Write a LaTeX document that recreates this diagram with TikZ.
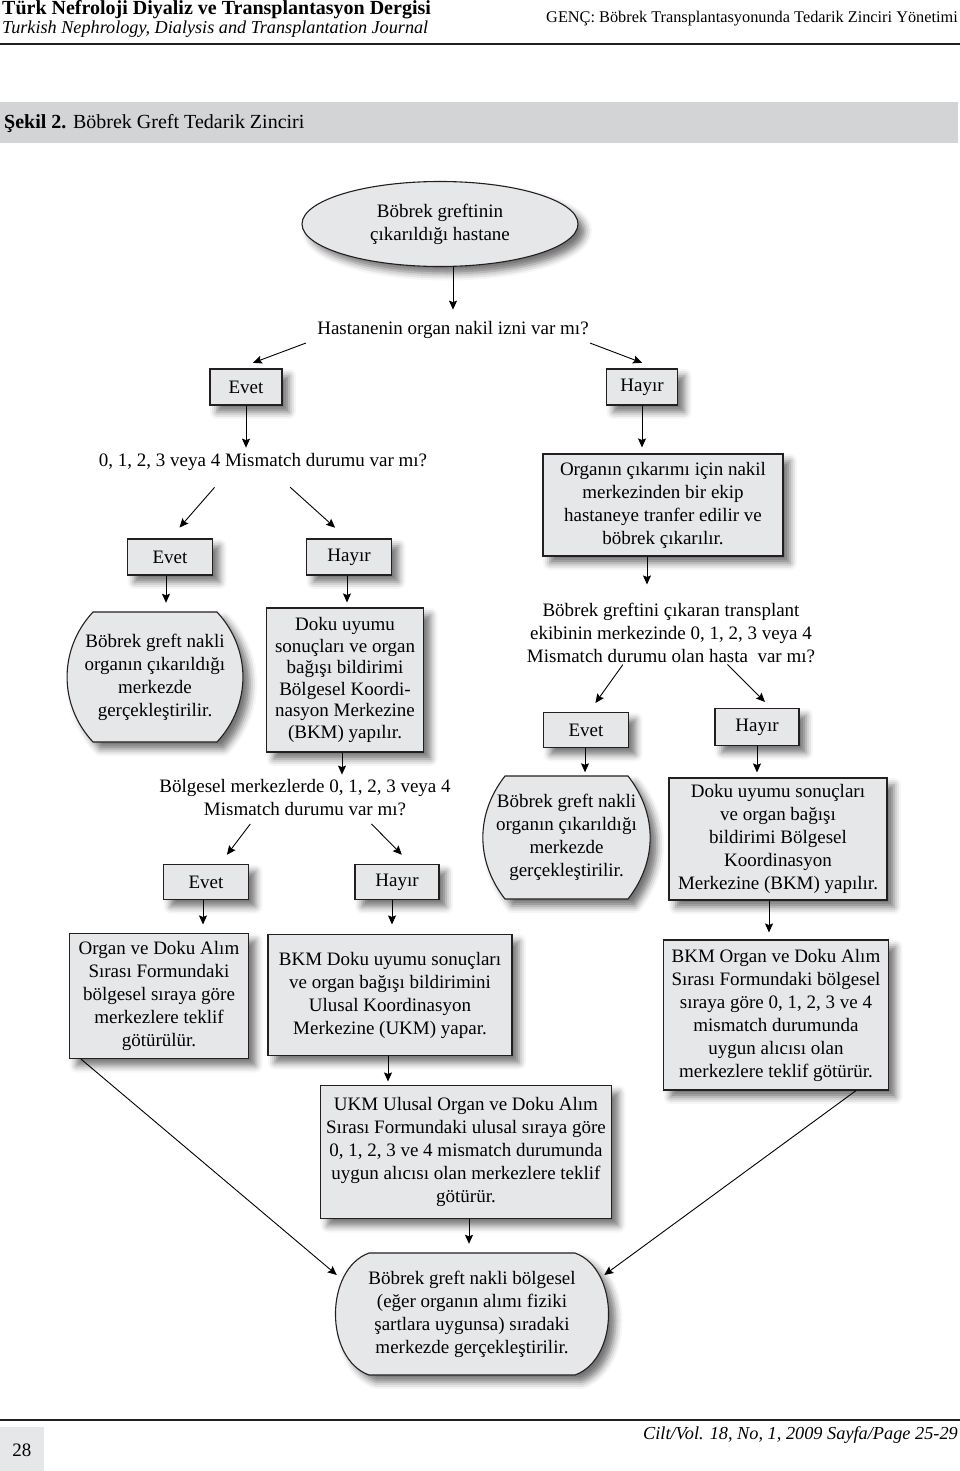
\documentclass[tikz,border=0pt]{standalone}
\usepackage{fontspec}
\setmainfont{Liberation Serif}
\usepackage{tikz}
\usetikzlibrary{shapes.geometric,arrows,arrows.meta,positioning,backgrounds,shadows.blur}
\definecolor{boxgray}{RGB}{230,231,232}
\definecolor{bandgray}{RGB}{211,212,214}
\definecolor{inkgray}{RGB}{35,31,32}
\tikzset
{
    softshadow/.style = {blur shadow={shadow xshift=7pt, shadow yshift=-7pt, shadow blur radius=7pt, shadow opacity=55}},
    process/.style  = {rectangle, draw=inkgray, fill=boxgray, line width=1.1pt, align=center, inner sep=0pt, softshadow},
    answer/.style   = {process, minimum width=85pt, minimum height=36pt},
    hospital/.style = {process, ellipse},
    question/.style = {align=center, inner sep=0pt},
    terminal/.style = {align=center, inner sep=0pt},
    termline/.style = {draw=inkgray, fill=boxgray, line width=1.1pt, softshadow},
    arrow/.style    = {-{Stealth[length=9pt, width=8pt, inset=1.5pt]}, line width=0.9pt, shorten >=6pt},
    branch/.style   = {arrow, shorten <=12pt, shorten >=14pt}
}

\begin{document}
\begin{tikzpicture}[x=1pt, y=-1pt, font=\fontsize{19}{23}\selectfont, header/.style={inner sep=0pt, anchor=west}]
		\useasboundingbox (0,0) rectangle (960,1471);
		\newcommand\termshape[4]{\draw[termline] ([shift={(-#2,-#3)}]#1.center) to[bend right=#4] ([shift={(-#2,#3)}]#1.center) -- ([shift={(#2,#3)}]#1.center) to[bend right=#4] ([shift={(#2,-#3)}]#1.center) -- cycle;}
		\node (jt)	[header] 										at (2,10)     								{\fontsize{20}{24}\selectfont\bfseries Türk Nefroloji Diyaliz ve Transplantasyon Dergisi};
		\node (js)	[header] 										at (2,29)     								{\fontsize{18.2}{22}\selectfont\itshape Turkish Nephrology, Dialysis and Transplantation Journal};
		\node (ja)	[header, anchor=east] 			at (958,19)   								{\fontsize{16.3}{20}\selectfont GENÇ: Böbrek Transplantasyonunda Tedarik Zinciri Yönetimi};
		\draw[line width=1.6pt, inkgray] (0,44) -- (960,44);
		\fill[bandgray] (0,102) rectangle (958,143);
		\node (fig)	[header] 										at (4,124)    								{\fontsize{20}{24}\selectfont\textbf{Şekil 2.} Böbrek Greft Tedarik Zinciri};

		\node (h)		[hospital, minimum width=276pt, minimum height=85pt] at (440,224) {Böbrek greftinin \\ çıkarıldığı hastane};
		\node (q0)	[question] 									at (453,330)  								{Hastanenin organ nakil izni var mı?};
		\node (e0)	[answer, minimum width=72pt] at (246,387)  							{Evet};
		\node (n0)	[answer, minimum width=71pt] at (642,387)  							{Hayır};
		\node (q1)	[question] 									at (263,462)  								{0, 1, 2, 3 veya 4 Mismatch durumu var mı?};
		\node (r1)	[process, minimum width=240pt, minimum height=102pt] at (663,505) {Organın çıkarımı için nakil \\ merkezinden bir ekip \\ hastaneye tranfer edilir ve \\ böbrek çıkarılır.};
		\node (e1)	[answer] 										at (170,557)  								{Evet};
		\node (n1)	[answer] 										at (349,557)  								{Hayır};
		\node (t1)	[terminal, minimum height=130pt] at (155,677)  						{Böbrek greft nakli \\ organın çıkarıldığı \\ merkezde \\ gerçekleştirilir.};
		\node (b1)	[process, minimum width=157pt, minimum height=144pt, font=\fontsize{19}{21.5}\selectfont] at (345,680) {Doku uyumu \\ sonuçları ve organ \\ bağışı bildirimi \\ Bölgesel Koordi- \\ nasyon Merkezine \\ (BKM) yapılır.};
		\node (q3)	[question] 									at (671,633)  								{Böbrek greftini çıkaran transplant \\ ekibinin merkezinde 0, 1, 2, 3 veya 4 \\ Mismatch durumu olan hasta\ \ var mı?};
		\node (e3)	[answer, minimum height=35pt] at (586,730) 							{Evet};
		\node (n3)	[answer, minimum width=84pt, minimum height=37pt] at (757,727) {Hayır};
		\node (q2)	[question] 									at (305,798)  								{Bölgesel merkezlerde 0, 1, 2, 3 veya 4 \\ Mismatch durumu var mı?};
		\node (e2)	[answer, minimum height=35pt] at (206,882) 							{Evet};
		\node (n2)	[answer, minimum width=84pt, minimum height=35pt] at (397,882) {Hayır};
		\node (t2)	[terminal, minimum height=123pt] at (566.5,837.5) 				{Böbrek greft nakli \\ organın çıkarıldığı \\ merkezde \\ gerçekleştirilir.};
		\node (r4)	[process, minimum width=218pt, minimum height=122pt] at (778,839) {Doku uyumu sonuçları \\ ve organ bağışı \\ bildirimi Bölgesel \\ Koordinasyon \\ Merkezine (BKM) yapılır.};
		\node (b2)	[process, minimum width=179pt, minimum height=125pt] at (159,996) {Organ ve Doku Alım \\ Sırası Formundaki \\ bölgesel sıraya göre \\ merkezlere teklif \\ götürülür.};
		\node (b3)	[process, minimum width=244pt, minimum height=121pt] at (390,995) {BKM Doku uyumu sonuçları \\ ve organ bağışı bildirimini \\ Ulusal Koordinasyon \\ Merkezine (UKM) yapar.};
		\node (r5)	[process, minimum width=225pt, minimum height=150pt] at (776,1015) {BKM Organ ve Doku Alım \\ Sırası Formundaki bölgesel \\ sıraya göre 0, 1, 2, 3 ve 4 \\ mismatch durumunda \\ uygun alıcısı olan \\ merkezlere teklif götürür.};
		\node (b4)	[process, minimum width=291pt, minimum height=133pt] at (466,1152) {UKM Ulusal Organ ve Doku Alım \\ Sırası Formundaki ulusal sıraya göre \\ 0, 1, 2, 3 ve 4 mismatch durumunda \\ uygun alıcısı olan merkezlere teklif \\ götürür.};
		\node (t3)	[terminal, minimum height=122pt] at (472,1314) 						{Böbrek greft nakli bölgesel \\ (eğer organın alımı fiziki \\ şartlara uygunsa) sıradaki \\ merkezde gerçekleştirilir.};

		\begin{scope}[on background layer]
		\termshape{t1}{62}{65}{43}
		\termshape{t2}{61.5}{61.5}{38}
		\termshape{t3}{103}{61}{70}
		\end{scope}

		\draw[arrow, shorten >=11.5pt] (q0.north |- h.south) -- (q0.north);
		\draw[branch, shorten >=16pt] (q0.south west) -- ([xshift=-8pt]e0.north);
		\draw[branch, shorten >=16pt] ([xshift=-10pt]q0.south east) -- ([xshift=15pt]n0.north);
		\draw[arrow, shorten >=5.5pt] (e0.south) -- (e0.south |- q1.north);
		\draw[arrow] (n0.south) -- (n0.south |- r1.north);
		\draw[branch, shorten <=22pt, shorten >=14.5pt] ([xshift=-34pt]q1.south) -- (e1.north);
		\draw[branch, shorten <=24.5pt, shorten >=16pt] ([xshift=9pt]q1.south) -- ([xshift=-2pt]n1.north);
		\draw[arrow, shorten >=9pt] ([xshift=-4pt]e1.south) -- ([xshift=-4pt]e1.south |- t1.north);
		\draw[arrow, shorten >=5pt] ([xshift=-2pt]n1.south) -- ([xshift=-2pt]n1.south |- b1.north);
		\draw[arrow, shorten >=18.5pt] ([xshift=-16pt]r1.south) -- ([xshift=-16pt]r1.south |- q3.north);
		\draw[branch, shorten <=2pt, shorten >=11pt] ([xshift=-47pt]q3.south) -- ([xshift=3pt]e3.north);
		\draw[branch, shorten <=2pt, shorten >=8.5pt] ([xshift=55pt]q3.south) -- ([xshift=14pt]n3.north);
		\draw[arrow, shorten >=5pt] ([xshift=-3pt]b1.south) -- ([xshift=-3pt]b1.south |- q2.north);
		\draw[branch, shorten <=9.5pt, shorten >=11.5pt] ([xshift=-49pt]q2.south) -- ([xshift=14pt]e2.north);
		\draw[branch, shorten <=10.5pt, shorten >=13pt] ([xshift=59pt]q2.south) -- ([xshift=14pt]n2.north);
		\draw[arrow, shorten >=3.5pt] ([xshift=-1pt]e3.south) -- ([xshift=-1pt]e3.south |- t2.north);
		\draw[arrow, shorten >=5pt] (n3.south) -- (n3.south |- r4.north);
		\draw[arrow, shorten >=8.5pt] ([xshift=-3pt]e2.south) -- ([xshift=-3pt]e2.south |- b2.north);
		\draw[arrow, shorten >=9.5pt] ([xshift=-5pt]n2.south) -- ([xshift=-5pt]n2.south |- b3.north);
		\draw[arrow, shorten >=7pt] ([xshift=-9pt]r4.south) -- ([xshift=-9pt]r4.south |- r5.north);
		\draw[arrow, shorten >=3.5pt] ([xshift=-2pt]b3.south) -- ([xshift=-2pt]b3.south |- b4.north);
		\draw[arrow, shorten >=9pt] ([xshift=3pt]b4.south) -- ([xshift=3pt]b4.south |- t3.north);
		\draw[arrow, shorten >=60.5pt] ([xshift=12pt]b2.south west) -- ([xshift=-89pt]t3.center);
		\draw[arrow, shorten >=66pt] ([xshift=-33pt]r5.south east) -- ([xshift=79pt]t3.center);

		\draw[line width=1.3pt, inkgray] (0,1420) -- (960,1420);
		\fill[boxgray] (0,1427) rectangle (44,1471);
		\node (pg)	[inner sep=0pt] 						at (22,1450)  								{28};
		\node (vol)	[header, anchor=east] 			at (958,1435) 								{\fontsize{18.3}{22}\selectfont\itshape Cilt/Vol. 18, No, 1, 2009 Sayfa/Page 25-29};
	\end{tikzpicture}
\end{document}
